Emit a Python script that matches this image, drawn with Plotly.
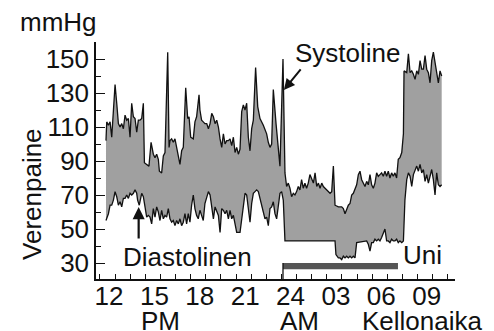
import plotly.graph_objects as go

# Time in hours (24+ = next morning), values in mmHg
sys_t = [11.80, 11.85, 11.96, 12.07, 12.18, 12.40, 12.51, 12.62, 12.73, 12.84, 12.95, 13.06, 13.17, 13.28,
         13.39, 13.50, 13.61, 13.72, 13.83, 13.94, 14.05, 14.16, 14.27, 14.34, 14.49, 14.64, 14.78, 14.93,
         15.04, 15.15, 15.26, 15.33, 15.48, 15.59, 15.70, 15.88, 15.97, 16.03, 16.14, 16.25, 16.36, 16.47,
         16.58, 16.69, 16.80, 16.91, 17.07, 17.20, 17.29, 17.40, 17.57, 17.68, 17.79, 17.95, 18.01, 18.12,
         18.23, 18.34, 18.46, 18.57, 18.68, 18.79, 18.90, 19.01, 19.12, 19.23, 19.34, 19.45, 19.56, 19.67,
         19.78, 19.89, 20.00, 20.11, 20.22, 20.33, 20.44, 20.55, 20.66, 20.77, 20.88, 20.99, 21.10, 21.21,
         21.32, 21.43, 21.54, 21.69, 21.83, 21.98, 22.20, 22.42, 22.53, 22.64, 22.75, 22.86, 23.04, 23.19,
         23.30, 23.50, 23.63, 23.74, 23.85, 23.96, 24.07, 24.18, 24.29, 24.40, 24.51, 24.62, 24.73, 24.84,
         24.95, 25.06, 25.17, 25.28, 25.39, 25.51, 25.62, 25.73, 25.84, 25.95, 26.06, 26.17, 26.28, 26.39,
         26.50, 26.61, 26.72, 26.83, 26.94, 27.16, 27.38, 27.49, 27.60, 27.71, 27.82, 27.93, 28.04, 28.15,
         28.26, 28.37, 28.48, 28.59, 28.70, 28.81, 28.92, 29.03, 29.14, 29.25, 29.36, 29.47, 29.58, 29.69,
         29.80, 29.91, 30.02, 30.13, 30.24, 30.35, 30.46, 30.57, 30.68, 30.79, 30.90, 31.01, 31.12, 31.23,
         31.35, 31.46, 31.50, 31.68, 31.79, 31.90, 32.01, 32.12, 32.23, 32.34, 32.45, 32.56, 32.67, 32.78,
         32.89, 33.00, 33.11, 33.22, 33.33, 33.44, 33.55, 33.66, 33.77, 33.88, 33.99]
sys_v = [102, 113, 111, 113, 104, 135, 124, 112, 110, 112, 109, 117, 114, 115,
         104, 124, 116, 115, 107, 114, 114, 115, 124, 89, 88, 87, 101, 94,
         92, 94, 91, 84, 83, 93, 95, 154, 98, 102, 103, 101, 103, 98,
         91, 88, 96, 98, 133, 115, 116, 104, 103, 113, 116, 129, 120, 114,
         113, 112, 112, 109, 112, 118, 116, 112, 114, 110, 103, 98, 106, 100,
         102, 102, 103, 99, 104, 95, 98, 94, 97, 119, 123, 120, 124, 104,
         96, 109, 114, 145, 122, 115, 111, 106, 101, 98, 100, 132, 112, 97,
         87, 150, 83, 75, 77, 74, 69, 71, 70, 72, 75, 73, 79, 74,
         77, 74, 77, 82, 80, 77, 83, 75, 77, 74, 77, 75, 74, 73,
         72, 71, 72, 87, 64, 63, 63, 62, 59, 61, 64, 65, 70, 71,
         73, 76, 82, 84, 79, 77, 75, 78, 76, 82, 76, 74, 77, 83,
         81, 82, 83, 81, 84, 81, 84, 80, 83, 81, 83, 80, 91, 92,
         95, 106, 143, 142, 153, 142, 143, 141, 138, 143, 141, 149, 144, 144,
         152, 144, 142, 136, 149, 154, 148, 140, 136, 143, 140]

dia_t = [11.80, 11.96, 12.07, 12.18, 12.29, 12.40, 12.51, 12.62, 12.73, 12.84, 12.95, 13.06, 13.17, 13.28,
         13.39, 13.50, 13.61, 13.72, 13.83, 13.89, 14.00, 14.05, 14.16, 14.27, 14.38, 14.49, 14.60, 14.71,
         14.82, 14.93, 15.04, 15.15, 15.26, 15.37, 15.48, 15.59, 15.70, 15.81, 15.92, 16.03, 16.14, 16.25,
         16.36, 16.47, 16.58, 16.69, 16.80, 16.91, 17.02, 17.13, 17.24, 17.35, 17.46, 17.57, 17.68, 17.79,
         17.90, 18.01, 18.12, 18.23, 18.34, 18.46, 18.57, 18.68, 18.79, 18.90, 19.01, 19.12, 19.23, 19.34,
         19.45, 19.56, 19.67, 19.78, 19.89, 20.00, 20.11, 20.22, 20.33, 20.44, 20.66, 20.77, 20.88, 20.99,
         21.10, 21.21, 21.32, 21.43, 21.54, 21.65, 21.76, 21.87, 21.98, 22.09, 22.20, 22.31, 22.42, 22.53,
         22.64, 22.75, 22.86, 22.97, 23.08, 23.19, 23.30, 23.41, 23.52, 23.63, 26.94, 27.00, 27.16, 27.27,
         27.38, 27.49, 27.60, 27.71, 27.82, 27.93, 28.04, 28.15, 28.26, 28.37, 29.03, 29.14, 29.25, 29.36,
         29.47, 29.58, 29.69, 29.80, 29.91, 30.02, 30.13, 30.24, 30.35, 30.46, 30.57, 30.68, 30.79, 30.90,
         31.01, 31.12, 31.23, 31.35, 31.46, 31.56, 31.68, 31.79, 31.90, 32.01, 32.12, 32.23, 32.34, 32.45,
         32.56, 32.67, 32.78, 32.89, 33.00, 33.11, 33.22, 33.33, 33.44, 33.55, 33.66, 33.77, 33.88, 33.99]
dia_v = [55, 59, 64, 64, 67, 72, 69, 64, 66, 63, 68, 68, 70, 68,
         71, 70, 71, 73, 71, 67, 64, 66, 71, 69, 63, 57, 58, 57,
         53, 62, 57, 63, 60, 55, 61, 56, 58, 57, 62, 56, 54, 55,
         52, 55, 53, 56, 52, 54, 59, 53, 59, 54, 64, 70, 62, 58,
         56, 61, 58, 55, 65, 69, 72, 70, 64, 56, 63, 60, 58, 48,
         62, 61, 59, 61, 56, 61, 56, 58, 53, 48, 48, 57, 64, 71,
         70, 61, 54, 65, 71, 72, 73, 72, 68, 64, 59, 56, 57, 52,
         62, 63, 66, 59, 56, 65, 71, 72, 67, 43, 43, 35, 33, 33,
         32, 34, 33, 34, 33, 34, 33, 34, 33, 42, 43, 41, 37, 42,
         42, 44, 43, 44, 43, 45, 47, 50, 43, 43, 42, 44, 43, 43,
         44, 42, 43, 42, 43, 67, 79, 83, 81, 75, 82, 84, 87, 84,
         88, 83, 85, 78, 82, 77, 81, 85, 79, 70, 83, 76, 75, 76]

tick_hours = [12, 15, 18, 21, 24, 27, 30, 33]
tick_labels = ["12", "15", "18", "21", "24", "03", "06", "09"]
hour_marks = [11.4 + k for k in range(24)]
y_ticks = [30, 50, 70, 90, 110, 130, 150]
y_minor = [40, 60, 80, 100, 120, 140]
sleep_start, sleep_end = 23.5, 31.1

FONT = "Liberation Sans, Arial, sans-serif"
INK = "#111111"

fig = go.Figure()
fig.add_trace(go.Scatter(
    x=sys_t + dia_t[::-1], y=sys_v + dia_v[::-1], fill="toself",
    fillcolor="#a0a0a0", line=dict(width=0), mode="lines", hoverinfo="skip"))
fig.add_trace(go.Scatter(x=sys_t, y=sys_v, mode="lines", line=dict(color=INK, width=1.3)))
fig.add_trace(go.Scatter(x=dia_t, y=dia_v, mode="lines", line=dict(color=INK, width=1.3)))

# sleep bar
fig.add_shape(type="rect", xref="x", yref="y", x0=sleep_start, x1=sleep_end, y0=26.3, y1=30,
              fillcolor="#555555", line=dict(width=0))
fig.add_shape(type="line", xref="x", yref="y domain", x0=sleep_start, x1=sleep_start, y0=0, y1=0.068,
              line=dict(color=INK, width=1.3))

ann = []
def txt(t, x, y, **kw):
    ann.append(dict(text=t, x=x, y=y, xref="paper", yref="paper", showarrow=False,
                    xanchor="center", yanchor="middle", font=dict(size=26, color=INK, family=FONT), **kw))

txt("mmHg", -0.1058, 1.0823)
txt("(", -0.1128, 1.217)
txt(")", 0.837, 1.217)
txt("Verenpaine", -0.1769, 0.3608, textangle=-90)
txt("Systoline", 0.7033, 0.9536)
txt("Diastolinen", 0.2543, 0.0941)
txt("Uni", 0.9095, 0.0992)
txt("PM", 0.1797, -0.1772)
txt("AM", 0.5669, -0.1772)
txt("Kellonaika", 0.9095, -0.1772)

# arrows
ann.append(dict(x=23.56, y=131.8, xref="x", yref="y", ax=18, ay=-22, text="", showarrow=True,
                arrowhead=2, arrowsize=1.1, arrowwidth=2, arrowcolor=INK))
ann.append(dict(x=13.96, y=62.9, xref="x", yref="y", ax=0, ay=33, text="", showarrow=True,
                arrowhead=2, arrowsize=1.1, arrowwidth=2.2, arrowcolor=INK))

# page body has an 8px default margin: figure is shrunk/offset to compensate
fig.update_layout(
    width=486, height=323, margin=dict(l=88, r=39, t=34, b=52),
    paper_bgcolor="white", plot_bgcolor="white", showlegend=False,
    font=dict(family=FONT, size=26, color=INK),
    annotations=ann,
    xaxis=dict(range=[11.14, 34.87], tickmode="array", tickvals=tick_hours, ticktext=tick_labels,
               ticks="", showline=True, linecolor=INK, linewidth=1.5, showgrid=False, zeroline=False,
               tickfont=dict(size=26), ticklabelstandoff=-7,
               minor=dict(tickmode="array", tickvals=hour_marks, ticks="inside", ticklen=5,
                          tickwidth=1.2, tickcolor=INK, showgrid=False)),
    yaxis=dict(range=[20.6, 160], tickmode="array", tickvals=y_ticks, ticks="inside", ticklen=9,
               tickwidth=1.3, tickcolor=INK, showline=True, linecolor=INK, linewidth=1.5,
               showgrid=False, zeroline=False, tickfont=dict(size=26),
               minor=dict(tickmode="array", tickvals=y_minor, ticks="inside", ticklen=5,
                          tickwidth=1.2, tickcolor=INK, showgrid=False)),
)

fig.write_html("out.html")
